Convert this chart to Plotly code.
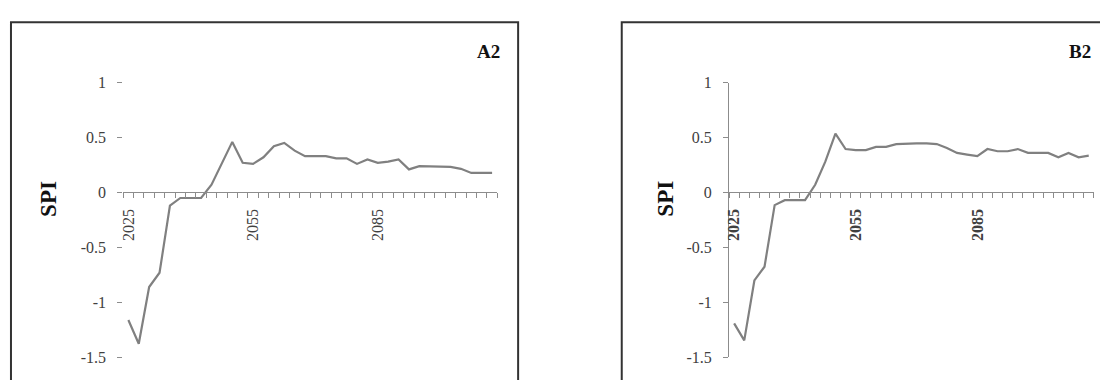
import plotly.graph_objects as go

W, H = 1100, 380

periods = [2025, 2027.5, 2030, 2032.5, 2035, 2037.5, 2040, 2042.5, 2045, 2047.5,
           2050, 2052.5, 2055, 2057.5, 2060, 2062.5, 2065, 2067.5, 2070, 2072.5,
           2075, 2077.5, 2080, 2082.5, 2085, 2087.5, 2090, 2092.5, 2095, 2097.5,
           2100, 2102.5, 2105, 2107.5, 2110, 2112.5]

spi_a2 = [-1.16, -1.375, -0.86, -0.73, -0.12, -0.05, -0.05, -0.05, 0.07, 0.27,
          0.46, 0.27, 0.26, 0.32, 0.42, 0.45, 0.38, 0.33, 0.33, 0.33,
          0.31, 0.31, 0.26, 0.30, 0.27, 0.28, 0.30, 0.21, 0.24, 0.235,
          0.235, 0.233, 0.215, 0.178, 0.178, 0.178]

spi_b2 = [-1.19, -1.345, -0.80, -0.675, -0.115, -0.07, -0.07, -0.07, 0.07, 0.28,
          0.535, 0.395, 0.385, 0.385, 0.415, 0.415, 0.44, 0.445, 0.447, 0.447,
          0.44, 0.405, 0.36, 0.345, 0.33, 0.395, 0.375, 0.375, 0.395, 0.36,
          0.36, 0.36, 0.32, 0.36, 0.32, 0.335]

x_labels = [2025, 2055, 2085]
y_ticks = [-1.5, -1, -0.5, 0, 0.5, 1]
y_ticktext = ["-1.5", "-1", "-0.5", "0", "0.5", "1"]
panel_labels = ["A2", "B2"]

LINE = "#808080"
AXIS = "#8c8c8c"
TXT = "#404040"
SERIF = "Liberation Serif"

step = periods[1] - periods[0]
bounds = [periods[0] - step / 2 + step * k for k in range(len(periods) + 1)]
xr = [bounds[0], bounds[-1]]

def px(x):
    return x / W

def py(y):
    return 1 - y / H

fig = go.Figure()
fig.add_trace(go.Scatter(x=periods, y=spi_a2, mode="lines", xaxis="x", yaxis="y",
                         line=dict(color=LINE, width=2.2), showlegend=False))
fig.add_trace(go.Scatter(x=periods, y=spi_b2, mode="lines", xaxis="x2", yaxis="y2",
                         line=dict(color=LINE, width=2.2), showlegend=False))

ydom = [py(365.8), py(78)]
zero_pos = py(192.3)

def xaxis(dom, bold):
    return dict(domain=dom, range=xr, anchor="free", position=zero_pos,
                showline=True, linecolor=AXIS, linewidth=1, showgrid=False, zeroline=False,
                tickmode="array", tickvals=x_labels, ticktext=[str(v) for v in x_labels],
                ticks="", tickangle=-90, ticklabelstandoff=10,
                tickfont=dict(family=SERIF, size=16, color=TXT,
                              weight="bold" if bold else "normal"),
                minor=dict(tickmode="array", tickvals=bounds, ticks="outside",
                           ticklen=5, tickwidth=1, tickcolor=AXIS, showgrid=False))

def yaxis(anchor, showline):
    return dict(domain=ydom, range=[-1.5, 1], anchor=anchor, showline=showline,
                linecolor=AXIS, linewidth=1, showgrid=False, zeroline=False,
                tickmode="array", tickvals=y_ticks, ticktext=y_ticktext,
                ticks="outside", ticklen=5, tickcolor=AXIS, ticklabelstandoff=8,
                tickfont=dict(family=SERIF, size=16, color=TXT))

fig.update_layout(
    width=W, height=H, margin=dict(l=0, r=0, t=0, b=0),
    paper_bgcolor="white", plot_bgcolor="rgba(0,0,0,0)",
    xaxis=xaxis([px(119.6), px(495.1)], False),
    yaxis=yaxis("x", False),
    xaxis2=xaxis([px(727.7), px(1093.8)], True),
    yaxis2=yaxis("x2", True),
)

# panel frames
fig.add_shape(type="rect", xref="paper", yref="paper", x0=px(7), x1=px(516), y0=py(395), y1=py(15),
              line=dict(color="#333333", width=2))
fig.add_shape(type="rect", xref="paper", yref="paper", x0=px(620), x1=px(1120), y0=py(395), y1=py(15),
              line=dict(color="#333333", width=2))

for xc in (44, 663):
    fig.add_annotation(xref="paper", yref="paper", x=px(xc), y=py(200), text="SPI",
                       textangle=-90, showarrow=False, xanchor="center", yanchor="middle",
                       font=dict(family=SERIF, size=23, color="#111111", weight="bold"))

for lab, xc in zip(panel_labels, (486, 1080)):
    fig.add_annotation(xref="paper", yref="paper", x=px(xc), y=py(46), text=lab,
                       showarrow=False, xanchor="center", yanchor="middle",
                       font=dict(family=SERIF, size=19, color="#111111", weight="bold"))

fig.write_html("out.html")
